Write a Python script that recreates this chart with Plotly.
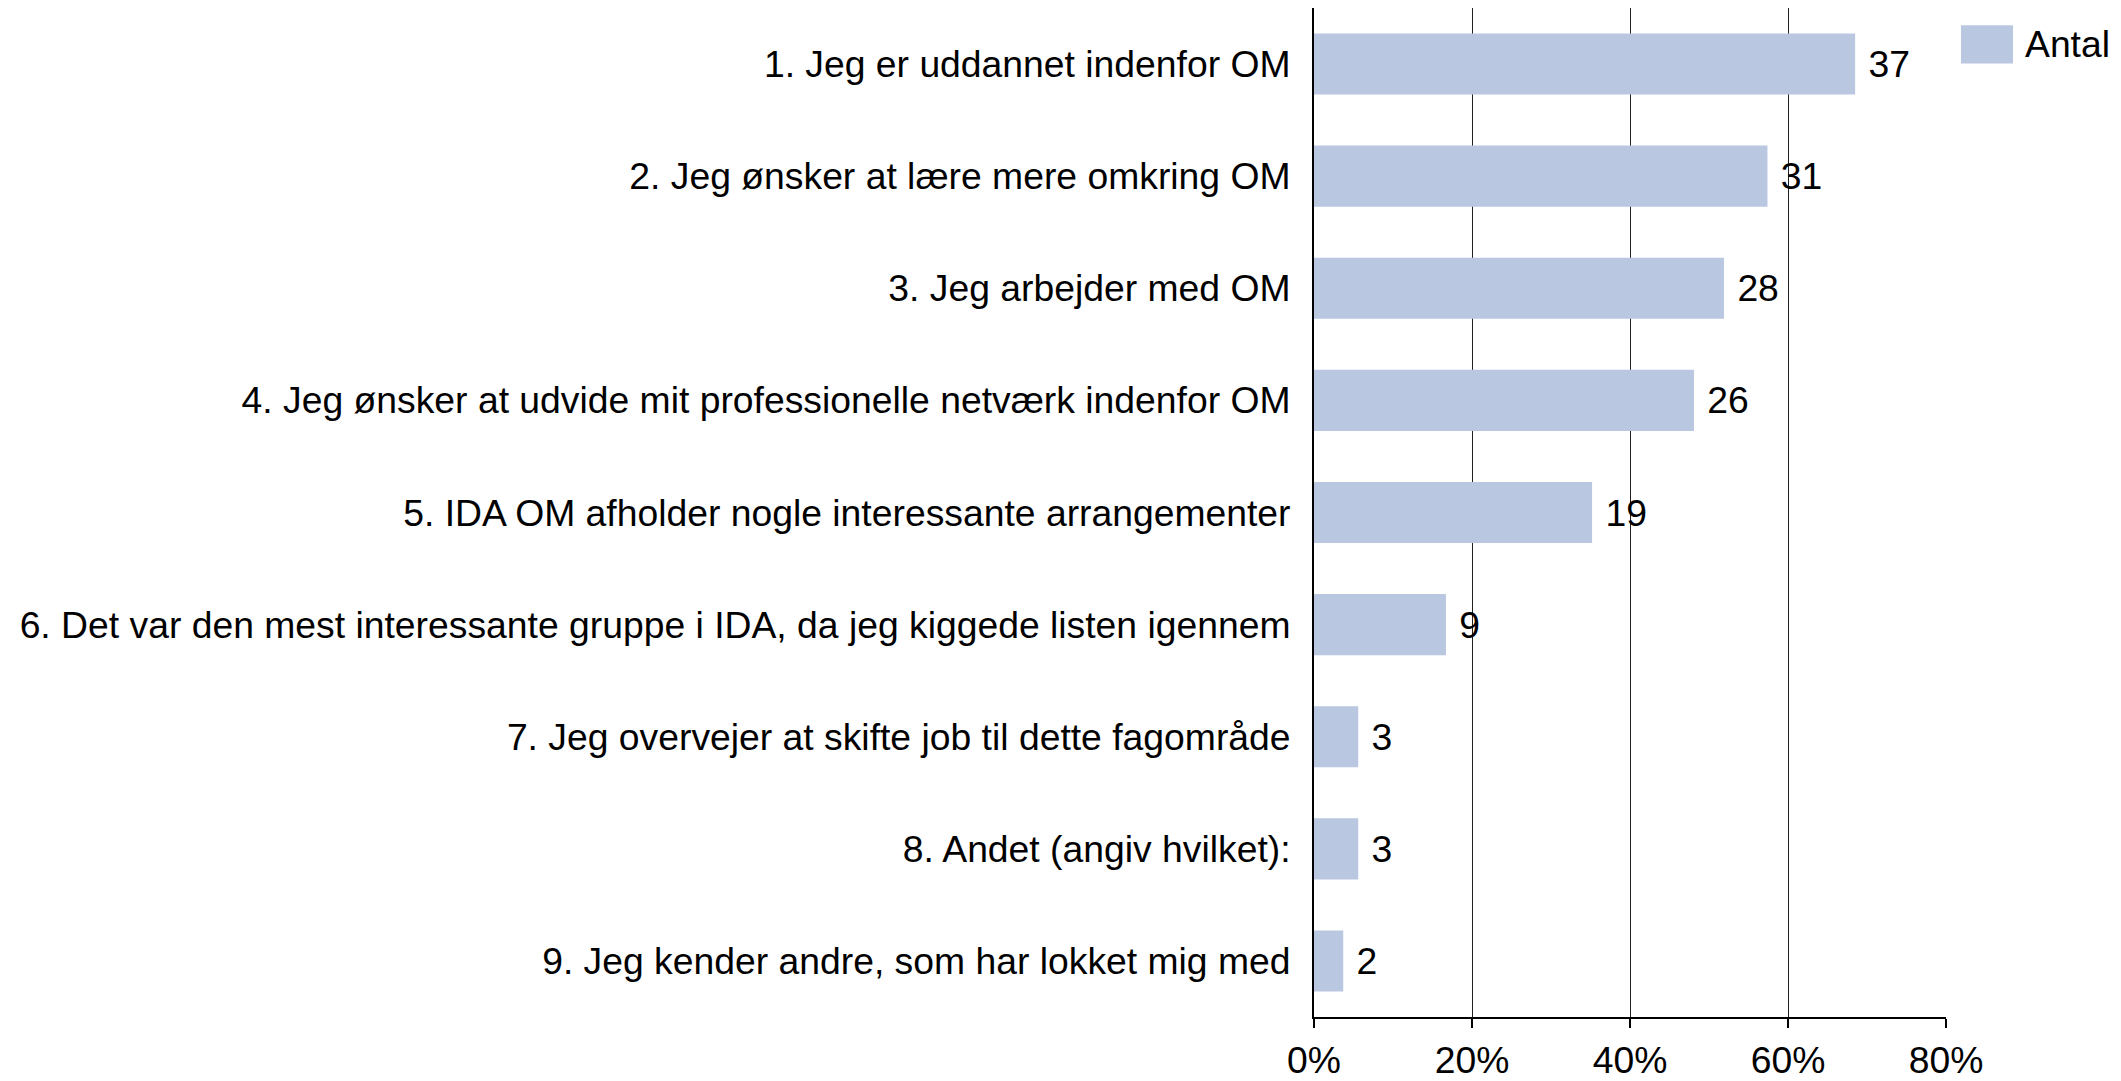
import plotly.graph_objects as go

categories = [
    "1. Jeg er uddannet indenfor OM",
    "2. Jeg ønsker at lære mere omkring OM",
    "3. Jeg arbejder med OM",
    "4. Jeg ønsker at udvide mit professionelle netværk indenfor OM",
    "5. IDA OM afholder nogle interessante arrangementer",
    "6. Det var den mest interessante gruppe i IDA, da jeg kiggede listen igennem",
    "7. Jeg overvejer at skifte job til dette fagområde",
    "8. Andet (angiv hvilket):",
    "9. Jeg kender andre, som har lokket mig med",
]
percent = [68.5, 57.4, 51.9, 48.1, 35.2, 16.7, 5.6, 5.6, 3.7]
counts = [37, 31, 28, 26, 19, 9, 3, 3, 2]
tick_vals = [0, 20, 40, 60, 80]
tick_text = ["0%", "20%", "40%", "60%", "80%"]
legend_name = "Antal"

FONT = "Liberation Sans, Arial, sans-serif"
BAR_COLOR = "#B9C8E0"
FS = 37.3

fig = go.Figure()
fig.add_trace(go.Bar(
    y=categories,
    x=percent,
    orientation="h",
    marker=dict(color=BAR_COLOR, line=dict(width=0)),
    text=[" " + str(c) for c in counts],
    textposition="outside",
    textfont=dict(family=FONT, size=FS, color="black"),
    constraintext="none",
    cliponaxis=False,
    name=legend_name,
    showlegend=False,
))

# page body has an 8px margin, so the figure is sized to fit inside the window
fig.update_layout(
    width=2113, height=1073,
    margin=dict(l=1306, r=175, t=0, b=64, autoexpand=False),
    paper_bgcolor="white",
    plot_bgcolor="white",
    bargap=0.455,
    font=dict(family=FONT, size=FS, color="black"),
    xaxis=dict(
        range=[0, 80],
        tickvals=tick_vals,
        ticktext=tick_text,
        showgrid=True,
        gridcolor="#202020",
        gridwidth=1,
        zeroline=False,
        showline=True,
        linecolor="black",
        linewidth=2,
        ticks="outside",
        ticklen=9,
        tickwidth=2,
        tickcolor="black",
        automargin=False,
        tickfont=dict(family=FONT, size=FS, color="black"),
    ),
    yaxis=dict(
        categoryorder="array",
        categoryarray=categories,
        range=[len(categories) - 0.5, -0.5],
        showline=True,
        linecolor="black",
        linewidth=2,
        ticks="",
        ticklabelstandoff=14,
        automargin=False,
        tickfont=dict(family=FONT, size=FS, color="black"),
        showgrid=False,
        zeroline=False,
    ),
)

# legend box drawn manually
fig.add_shape(type="rect", xref="paper", yref="paper",
              x0=1.0237, x1=1.106, y0=0.945, y1=0.983,
              fillcolor=BAR_COLOR, line=dict(width=0))
fig.add_annotation(xref="paper", yref="paper", x=1.122, y=0.964,
                   text=legend_name, showarrow=False, xanchor="left", yanchor="middle",
                   font=dict(family=FONT, size=FS, color="black"))

fig.write_html("out.html")
